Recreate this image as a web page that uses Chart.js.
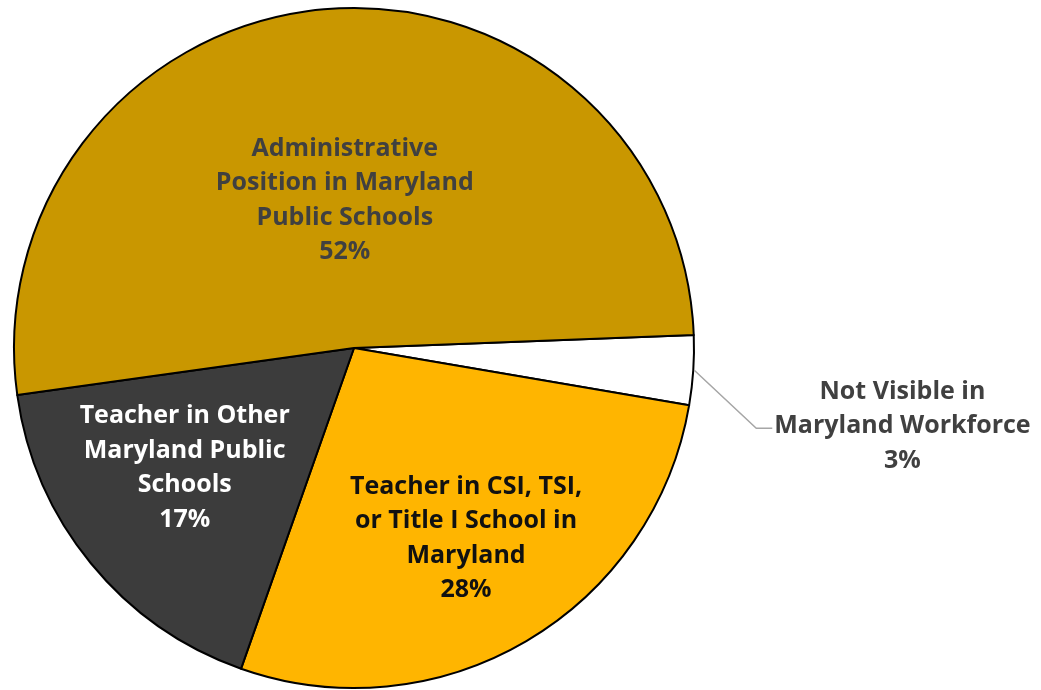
<!DOCTYPE html>
<html>
<head>
<meta charset="utf-8">
<script src="https://cdn.jsdelivr.net/npm/chart.js@4"></script>
<style>
  html, body { margin: 0; padding: 0; background: #fff; }
  #wrap { width: 1041px; height: 690px; }
</style>
</head>
<body>
<div id="wrap"><canvas id="myChart"></canvas></div>
<script>
// slices, clockwise from just above 3 o'clock
const labels = [
    ['Not Visible in', 'Maryland Workforce'],
    ['Teacher in CSI, TSI,', 'or Title I School in', 'Maryland'],
    ['Teacher in Other', 'Maryland Public', 'Schools'],
    ['Administrative', 'Position in Maryland', 'Public Schools']
]
const values = [3.3, 27.7, 17.4, 51.6]
const sliceColors = ['#FFFFFF', '#FFB500', '#3C3C3C', '#C99700']
const textColors = ['#404040', '#111111', '#FFFFFF', '#404040']

// label placement inside slices: fraction of radius, angle shift in degrees
const labelFrac = [null, 0.65, 0.61, 0.435]
const labelShift = [0, 0, 4, 1.5]

const FONT = 'bold 25px "Open Sans", Lato, sans-serif'
const LINE_H = 34.5

const sliceLabels = {
    id: 'sliceLabels',
    afterDatasetsDraw(chart) {
        const { ctx } = chart
        const arcs = chart.getDatasetMeta(0).data
        const total = values.reduce((a, b) => a + b, 0)
        ctx.save()
        ctx.font = FONT
        ctx.textAlign = 'center'
        ctx.textBaseline = 'middle'

        arcs.forEach((arc, i) => {
            const p = arc.getProps(['x', 'y', 'startAngle', 'endAngle', 'outerRadius'], true)
            const mid = (p.startAngle + p.endAngle) / 2
            const lines = labels[i].concat([Math.round(values[i] / total * 100) + '%'])
            ctx.fillStyle = textColors[i]

            if (labelFrac[i] === null) {
                // outside label with leader line
                const sx = p.x + Math.cos(mid) * (p.outerRadius + 1)
                const sy = p.y + Math.sin(mid) * (p.outerRadius + 1)
                const ex = sx + 62, ey = sy + 58
                ctx.strokeStyle = '#A6A6A6'
                ctx.lineWidth = 1.5
                ctx.beginPath()
                ctx.moveTo(sx, sy)
                ctx.lineTo(ex, ey)
                ctx.lineTo(ex + 16, ey)
                ctx.stroke()
                const w = Math.max(...lines.map(l => ctx.measureText(l).width))
                const cx = ex + 18 + w / 2
                const cy = ey - 2
                lines.forEach((l, k) => {
                    ctx.fillText(l, cx, cy + (k - (lines.length - 1) / 2) * LINE_H)
                })
                return
            }

            const a = mid + labelShift[i] * Math.PI / 180
            const r = p.outerRadius * labelFrac[i]
            const cx = p.x + Math.cos(a) * r
            const cy = p.y + Math.sin(a) * r
            lines.forEach((l, k) => {
                ctx.fillText(l, cx, cy + (k - (lines.length - 1) / 2) * LINE_H)
            })
        })
        ctx.restore()
    }
}

new Chart(document.getElementById('myChart'), {
    type: 'pie',
    data: {
        labels: labels.map(l => l.join(' ')),
        datasets: [{
            data: values,
            backgroundColor: sliceColors,
            borderColor: '#000000',
            borderWidth: 2,
            borderJoinStyle: 'round'
        }]
    },
    options: {
        responsive: true,
        maintainAspectRatio: false,
        animation: false,
        rotation: 87.8,
        layout: {
            padding: { left: 13, top: 7, right: 346, bottom: 1 }
        },
        plugins: {
            legend: { display: false },
            tooltip: { enabled: false }
        }
    },
    plugins: [sliceLabels]
})
</script>
</body>
</html>
